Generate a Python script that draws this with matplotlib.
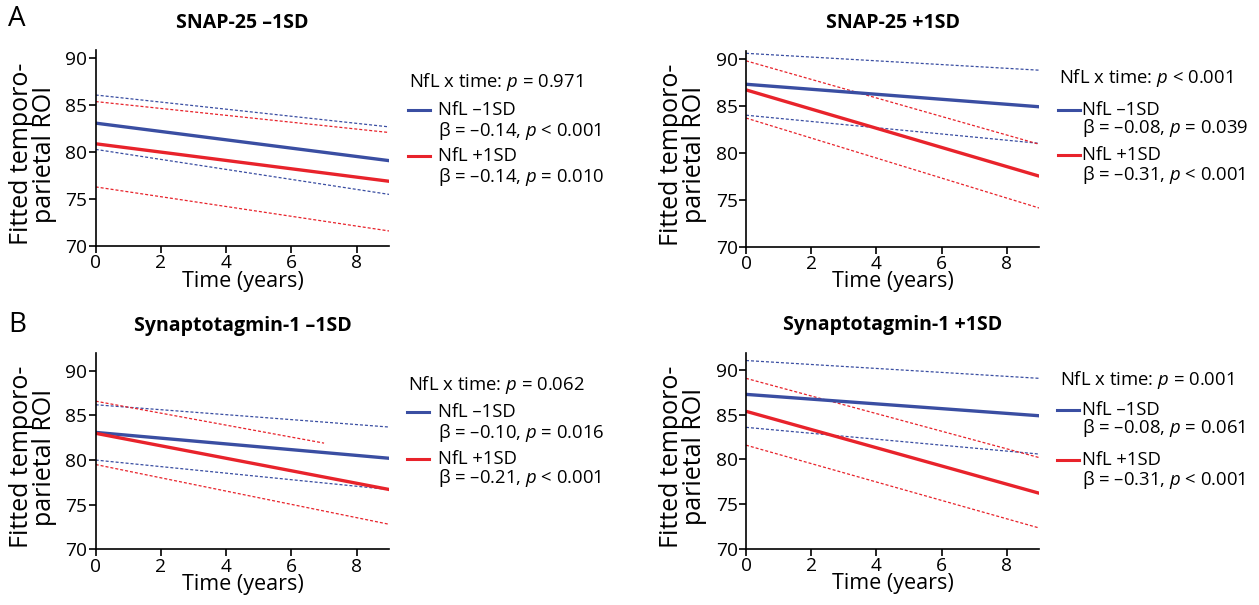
"""Fitted temporo-parietal ROI over time by NfL level, split by SNAP-25 / synaptotagmin-1."""

import matplotlib
matplotlib.use("Agg")
import matplotlib.pyplot as plt
from matplotlib.lines import Line2D

plt.rcParams["font.family"] = ["Open Sans", "DejaVu Sans"]
plt.rcParams["mathtext.fontset"] = "custom"
plt.rcParams["mathtext.it"] = "Open Sans:italic"
plt.rcParams["mathtext.rm"] = "Open Sans"

BLUE = "#3a4ea2"
RED = "#e8232b"

# ---- data ----
TIME = [0, 9]

# A, SNAP-25 -1SD
SNAP_LO_NEG = [83.1, 79.1]
SNAP_LO_NEG_CI = ([86.1, 82.7], [80.3, 75.5])
SNAP_LO_POS = [80.9, 76.9]
SNAP_LO_POS_CI = ([85.4, 82.1], [76.3, 71.6])

# A, SNAP-25 +1SD
SNAP_HI_NEG = [87.3, 84.9]
SNAP_HI_NEG_CI = ([90.6, 88.8], [84.0, 81.0])
SNAP_HI_POS = [86.7, 77.5]
SNAP_HI_POS_CI = ([89.8, 80.9], [83.7, 74.1])

# B, synaptotagmin-1 -1SD (upper red band stops at 7 years)
SYT_LO_NEG = [83.1, 80.2]
SYT_LO_NEG_CI = ([86.2, 83.7], [80.0, 76.7])
SYT_LO_POS = [83.0, 76.7]
SYT_LO_POS_UPPER_TIME = [0, 7]
SYT_LO_POS_CI = ([86.6, 81.9], [79.5, 72.8])

# B, synaptotagmin-1 +1SD
SYT_HI_NEG = [87.3, 84.9]
SYT_HI_NEG_CI = ([91.1, 89.1], [83.6, 80.6])
SYT_HI_POS = [85.4, 76.2]
SYT_HI_POS_CI = ([89.1, 80.2], [81.6, 72.3])

TITLES = ["SNAP-25 \u20131SD", "SNAP-25 +1SD",
          "Synaptotagmin-1 \u20131SD", "Synaptotagmin-1 +1SD"]
INTERACTION_P = ["$p$ = 0.971", "$p$ < 0.001", "$p$ = 0.062", "$p$ = 0.001"]
NEG_STATS = ["\u03b2 = \u20130.14, $p$ < 0.001", "\u03b2 = \u20130.08, $p$ = 0.039",
             "\u03b2 = \u20130.10, $p$ = 0.016", "\u03b2 = \u20130.08, $p$ = 0.061"]
POS_STATS = ["\u03b2 = \u20130.14, $p$ = 0.010", "\u03b2 = \u20130.31, $p$ < 0.001",
             "\u03b2 = \u20130.21, $p$ < 0.001", "\u03b2 = \u20130.31, $p$ < 0.001"]

W, H = 1259, 605


def fx(px):
    return px / W


def fy(py):
    return 1 - py / H


fig = plt.figure(figsize=(W / 100, H / 100), dpi=100)

# axes boxes in pixels: left, right, bottom, top, ymax
boxes = [
    (95.7, 389.3, 246.0, 50.0, 90.9),
    (746.0, 1039.3, 246.5, 50.5, 90.9),
    (95.7, 389.3, 549.3, 353.0, 92.0),
    (746.0, 1039.3, 548.5, 352.5, 92.0),
]

panels = [
    (SNAP_LO_NEG, SNAP_LO_NEG_CI, SNAP_LO_POS, SNAP_LO_POS_CI, TIME),
    (SNAP_HI_NEG, SNAP_HI_NEG_CI, SNAP_HI_POS, SNAP_HI_POS_CI, TIME),
    (SYT_LO_NEG, SYT_LO_NEG_CI, SYT_LO_POS, SYT_LO_POS_CI, SYT_LO_POS_UPPER_TIME),
    (SYT_HI_NEG, SYT_HI_NEG_CI, SYT_HI_POS, SYT_HI_POS_CI, TIME),
]

# legend anchor per panel: header (x, y), line x0, x1, text x, row ys
legends = [
    (409, 82, 408, 430, 438, [110, 131, 156, 177]),
    (1059, 78, 1058, 1080, 1082, [110, 128, 155, 175]),
    (408, 385, 407, 429, 438, [412, 433, 459, 478]),
    (1060, 380, 1057, 1079, 1082, [410, 428, 460, 480]),
]

dash = (0, (2.4, 1.6))
LEG_FS = 13.3

for i, (box, data) in enumerate(zip(boxes, panels)):
    left, right, bottom, top, ymax = box
    neg, neg_ci, pos, pos_ci, pos_upper_t = data
    ax = fig.add_axes([fx(left), fy(bottom), fx(right - left), (bottom - top) / H])

    ax.plot(TIME, neg_ci[0], color=BLUE, lw=0.9, ls=dash)
    ax.plot(TIME, neg_ci[1], color=BLUE, lw=0.9, ls=dash)
    ax.plot(pos_upper_t, pos_ci[0], color=RED, lw=0.9, ls=dash)
    ax.plot(TIME, pos_ci[1], color=RED, lw=0.9, ls=dash)
    ax.plot(TIME, neg, color=BLUE, lw=2.4, solid_capstyle="butt")
    ax.plot(TIME, pos, color=RED, lw=2.4, solid_capstyle="butt")

    ax.set_xlim(0, 9)
    ax.set_ylim(70, ymax)
    ax.set_xticks([0, 2, 4, 6, 8])
    ax.set_yticks([70, 75, 80, 85, 90])
    for s in ["top", "right"]:
        ax.spines[s].set_visible(False)
    for s in ["left", "bottom"]:
        ax.spines[s].set_linewidth(1.2)
    ax.tick_params(length=5, width=1.2, labelsize=13.8, pad=1)
    ax.set_xlabel("Time (years)", fontsize=15.5, labelpad=-1)

    # y label, two lines
    ylab_x = 33 if i % 2 == 0 else 683
    fig.text(fx(ylab_x), fy((top + bottom) / 2 + 6), "Fitted temporo-\nparietal ROI",
             rotation=90, ha="center", va="center", fontsize=18, linespacing=0.88,
             multialignment="center")

    ax.set_title(TITLES[i], fontsize=14, fontweight="bold", pad=16)

    hx, hy, lx0, lx1, tx, rows = legends[i]
    fig.text(fx(hx), fy(hy), "NfL x time: " + INTERACTION_P[i], fontsize=LEG_FS, va="center")
    for color, name, stat, ya, yb in [(BLUE, "NfL \u20131SD", NEG_STATS[i], rows[0], rows[1]),
                                      (RED, "NfL +1SD", POS_STATS[i], rows[2], rows[3])]:
        fig.add_artist(Line2D([fx(lx0), fx(lx1)], [fy(ya), fy(ya)], color=color, lw=2.2))
        fig.text(fx(tx), fy(ya), name, fontsize=LEG_FS, va="center")
        fig.text(fx(tx), fy(yb), stat, fontsize=LEG_FS, va="center")

fig.text(fx(17), fy(19), "A", fontsize=20, ha="center", va="center")
fig.text(fx(17), fy(325), "B", fontsize=20, ha="center", va="center")

fig.savefig("out.png", dpi=100)
plt.close(fig)
